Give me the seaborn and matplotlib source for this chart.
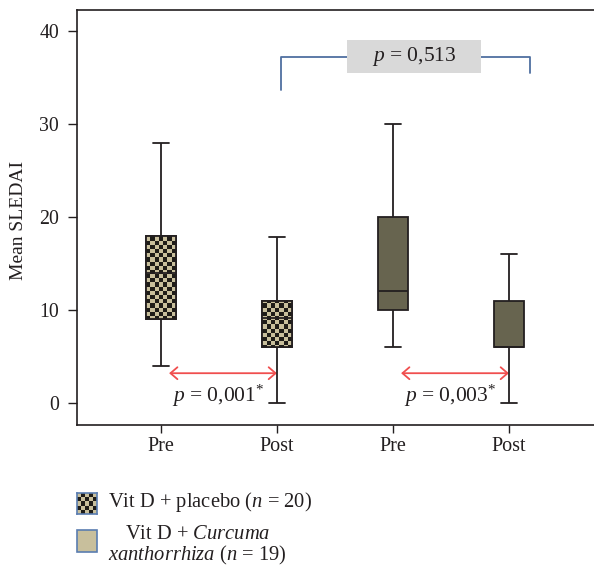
import numpy as np
import pandas as pd
import matplotlib
matplotlib.use("Agg")
import matplotlib.pyplot as plt
import seaborn as sns
from matplotlib.colors import ListedColormap, to_rgba
from matplotlib.patches import Rectangle, PathPatch

slots = ["pre_placebo", "post_placebo", "pre_curcuma", "post_curcuma"]
tick_labels = ["Pre", "Post", "Pre", "Post"]
groups = ["placebo", "placebo", "curcuma", "curcuma"]
# five-number summaries: min, Q1, median, Q3, max
pre_placebo = [4, 9, 14, 18, 28]
post_placebo = [0, 6, 9.1, 11, 17.9]
pre_curcuma = [6, 10, 12, 20, 30]
post_curcuma = [0, 6, 6, 11, 16]
p_within = ["0,001", "0,003"]
p_between = "0,513"

TAN = "#c8bf9c"
DARK = "#1e1c18"
OLIVE = "#67644f"
EDGE = "#231f20"
RED = "#f04e4e"
BLUE = "#4f6fa0"

rows = []
for slot, grp, vals in zip(slots, groups, [pre_placebo, post_placebo, pre_curcuma, post_curcuma]):
    for v in vals:
        rows.append({"slot": slot, "group": grp, "sledai": v})
df = pd.DataFrame(rows)

sns.set_style("ticks")
plt.rcParams["font.family"] = ["Liberation Serif", "DejaVu Serif"]
plt.rcParams["mathtext.fontset"] = "custom"
plt.rcParams["mathtext.rm"] = "Liberation Serif"
plt.rcParams["mathtext.it"] = "Liberation Serif:italic"

fig = plt.figure(figsize=(5.94, 5.65), dpi=100)
ax = fig.add_axes([77 / 594, 1 - 425 / 565, 517 / 594, 415 / 565])

sns.boxplot(
    data=df, x="slot", y="sledai", hue="group", order=slots,
    palette={"placebo": TAN, "curcuma": OLIVE}, dodge=False, width=0.26,
    whis=(0, 100), fliersize=0, linecolor=EDGE, linewidth=1.3,
    saturation=1, legend=False, ax=ax,
)

# checkerboard fill for the placebo boxes
checker = np.indices((99, 120)).sum(axis=0) % 2
tan_rgba = np.array(to_rgba(TAN))
for patch in list(ax.patches):
    if np.allclose(patch.get_facecolor(), tan_rgba, atol=0.02):
        im = ax.imshow(checker, cmap=ListedColormap([TAN, DARK]), extent=(0, 1, 0, 1),
                       transform=ax.transAxes, aspect="auto", interpolation="nearest",
                       zorder=3)
        im.set_clip_path(patch)
        ax.add_patch(PathPatch(patch.get_path(), transform=patch.get_transform(),
                               fc="none", ec=EDGE, lw=1.3, zorder=3.5))
for line in ax.lines:
    line.set_zorder(4)

ax.set_xlim(-0.724, 3.733)
ax.set_ylim(-2.37, 42.26)
ax.set_yticks([0, 10, 20, 30, 40])
ax.set_xticks(range(len(slots)))
ax.set_xticklabels(tick_labels)
ax.set_xlabel("")
ax.set_ylabel("Mean SLEDAI", fontsize=14, color=EDGE)
ax.yaxis.set_label_coords(-0.0967, 0.493)
ax.tick_params(axis="y", length=6.5, width=1, pad=6.5, labelsize=14.3, colors=EDGE)
ax.tick_params(axis="x", length=5.8, width=1, pad=3, labelsize=14.5, colors=EDGE)
ax.spines["right"].set_visible(False)
for s in ["top", "left", "bottom"]:
    ax.spines[s].set_linewidth(1.2)
    ax.spines[s].set_color(EDGE)

# within-group p values
for i, p in zip([0, 2], p_within):
    ax.annotate("", xy=(i + 1, 3.2), xytext=(i + 0.07, 3.2),
                arrowprops=dict(arrowstyle="<->,head_length=0.5,head_width=0.43",
                                color=RED, lw=1.3, shrinkA=0, shrinkB=0,
                                mutation_scale=10))
    ax.text(i + 0.49, 0.1, f"$p$ = {p}$^{{*}}$", ha="center", va="baseline",
            fontsize=15.5, color=EDGE)

# between-group bracket
ax.plot([1.034, 1.034, 3.18, 3.18], [33.7, 37.2, 37.2, 35.5], color=BLUE, lw=1.3,
        clip_on=False)
ax.add_patch(Rectangle((1.60, 35.5), 1.16, 3.53, facecolor="#d9d9d9",
                       edgecolor="none", zorder=5))
ax.text(2.18, 37.3, f"$p$ = {p_between}", ha="center", va="center", fontsize=15.5,
        color=EDGE, zorder=6)

# legend below the axes
lax = fig.add_axes([77 / 594, 1 - 514 / 565, 20 / 594, 21 / 565])
lax.imshow(np.indices((5, 5)).sum(axis=0) % 2, cmap=ListedColormap([TAN, DARK]),
           aspect="auto", interpolation="nearest")
lax.set_xticks([])
lax.set_yticks([])
for s in lax.spines.values():
    s.set_color("#5a7db0")
    s.set_linewidth(1.2)
fig.add_artist(Rectangle((77 / 594, 1 - 552 / 565), 20 / 594, 22 / 565,
                         transform=fig.transFigure, facecolor=TAN,
                         edgecolor="#5a7db0", lw=1.2))
fig.text(108 / 594, 1 - 507 / 565, "Vit D + placebo ($n$ = 20)", fontsize=14.8,
         va="baseline", color=EDGE)
fig.text(125 / 594, 1 - 539 / 565, "Vit D + $Curcuma$", fontsize=14.8,
         va="baseline", color=EDGE)
fig.text(108 / 594, 1 - 560 / 565, "$xanthorrhiza$ ($n$ = 19)", fontsize=14.8,
         va="baseline", color=EDGE)

fig.savefig("out.png", dpi=100)
